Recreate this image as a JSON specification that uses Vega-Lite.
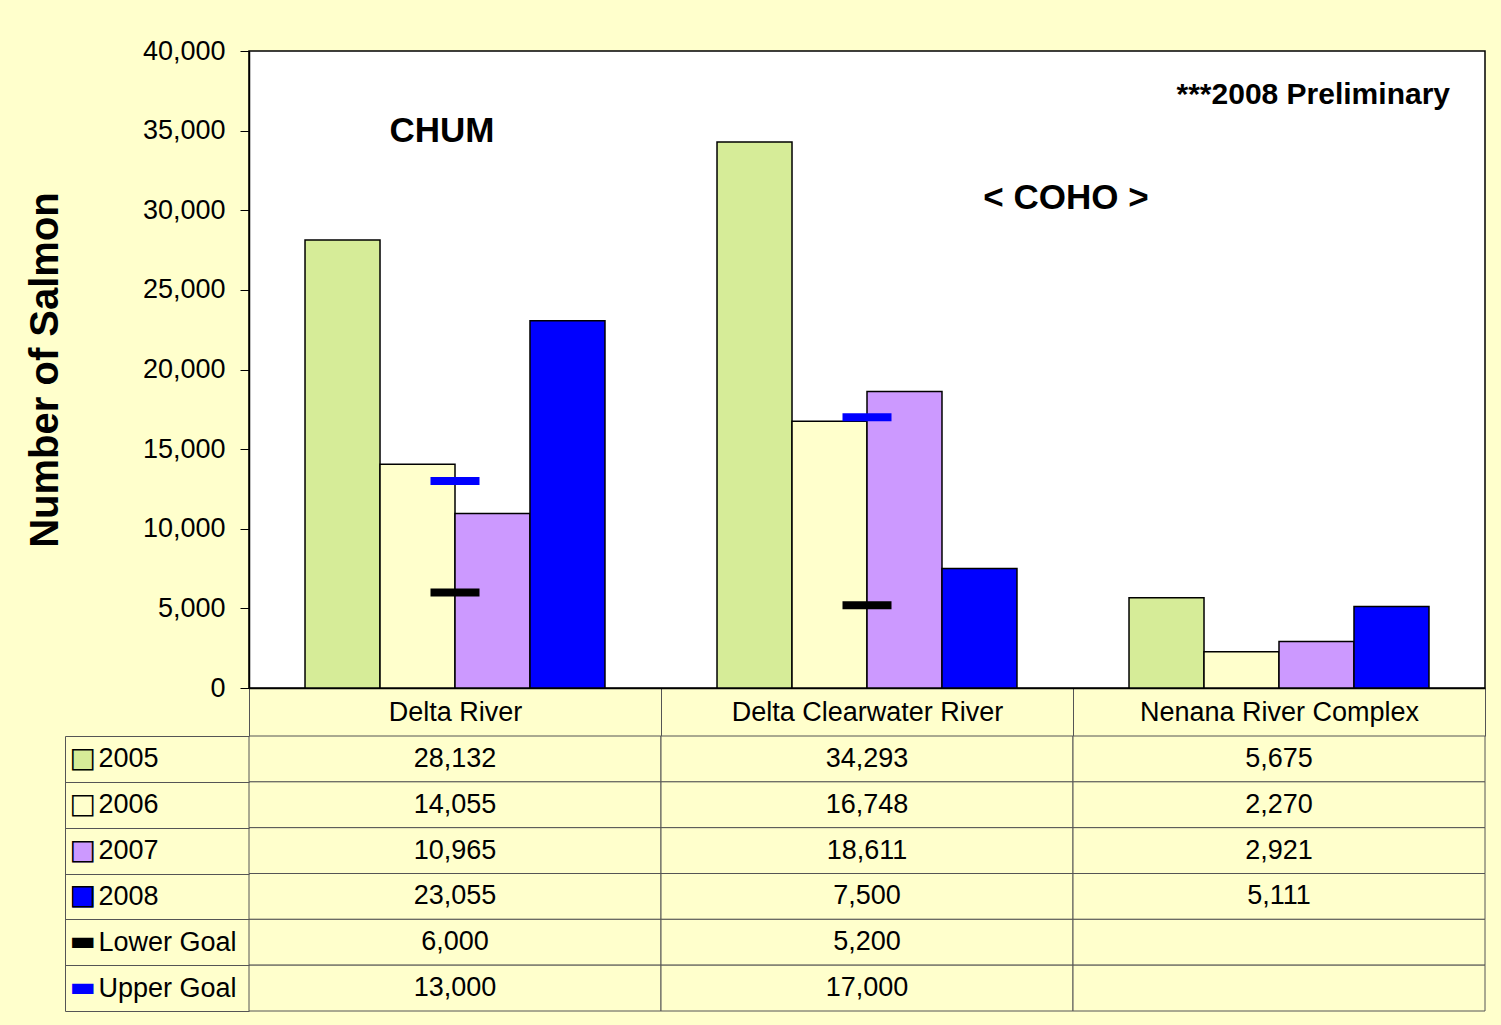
{
  "$schema": "https://vega.github.io/schema/vega-lite/v6.json",
  "background": "#FFFFCC",
  "padding": {"left": 24, "top": 36, "right": 16, "bottom": 15},
  "bounds": "flush",
  "spacing": 48,
  "config": {"font": "Liberation Sans", "view": {"stroke": null}},
  "datasets": {
    "salmon": [
      {"river": "Delta River", "series": "2005", "value": 28132},
      {"river": "Delta River", "series": "2006", "value": 14055},
      {"river": "Delta River", "series": "2007", "value": 10965},
      {"river": "Delta River", "series": "2008", "value": 23055},
      {"river": "Delta River", "series": "Lower Goal", "value": 6000},
      {"river": "Delta River", "series": "Upper Goal", "value": 13000},
      {"river": "Delta Clearwater River", "series": "2005", "value": 34293},
      {"river": "Delta Clearwater River", "series": "2006", "value": 16748},
      {"river": "Delta Clearwater River", "series": "2007", "value": 18611},
      {"river": "Delta Clearwater River", "series": "2008", "value": 7500},
      {"river": "Delta Clearwater River", "series": "Lower Goal", "value": 5200},
      {"river": "Delta Clearwater River", "series": "Upper Goal", "value": 17000},
      {"river": "Nenana River Complex", "series": "2005", "value": 5675},
      {"river": "Nenana River Complex", "series": "2006", "value": 2270},
      {"river": "Nenana River Complex", "series": "2007", "value": 2921},
      {"river": "Nenana River Complex", "series": "2008", "value": 5111},
      {"river": "Nenana River Complex", "series": "Lower Goal", "value": null},
      {"river": "Nenana River Complex", "series": "Upper Goal", "value": null}
    ]
  },
  "resolve": {"scale": {"x": "independent", "y": "independent", "color": "independent"}},
  "vconcat": [
    {
      "width": 1236,
      "height": 637,
      "view": {"fill": "white", "stroke": "black", "strokeWidth": 1.5},
      "encoding": {
        "x": {
          "field": "river",
          "type": "nominal",
          "scale": {"domain": ["Delta River", "Delta Clearwater River", "Nenana River Complex"], "paddingInner": 0, "paddingOuter": 0},
          "axis": {
            "title": null, "labelAngle": 0, "domain": true, "domainColor": "black", "domainWidth": 1.5,
            "ticks": true, "tickBand": "extent", "tickSize": 48, "tickColor": "#555", "tickWidth": 1,
            "labelPadding": -24, "labelBaseline": "middle", "labelFontSize": 27, "labelColor": "black",
            "labelFont": "Liberation Sans", "labelLimit": 500, "grid": false
          }
        },
        "y": {
          "field": "value",
          "type": "quantitative",
          "scale": {"domain": [0, 40000], "nice": false},
          "axis": {
            "title": "Number of Salmon", "titleFontSize": 40, "titleFontWeight": "bold", "titleColor": "black",
            "titleFont": "Liberation Sans", "titlePadding": 77,
            "values": [0, 5000, 10000, 15000, 20000, 25000, 30000, 35000, 40000], "format": ",.0f",
            "tickSize": 9, "tickColor": "black", "labelPadding": 15, "labelFontSize": 27, "labelColor": "black",
            "labelFont": "Liberation Sans", "domainColor": "black", "domainWidth": 1.5, "grid": false
          }
        }
      },
      "layer": [
        {
          "data": {"name": "salmon"},
          "transform": [{"filter": {"field": "series", "oneOf": ["2005", "2006", "2007", "2008"]}}],
          "mark": {"type": "bar", "stroke": "black", "strokeWidth": 1.5},
          "encoding": {
            "xOffset": {"field": "series", "type": "nominal", "scale": {"domain": ["2005", "2006", "2007", "2008"], "paddingInner": 0, "paddingOuter": 0.747}},
            "color": {
              "field": "series", "type": "nominal", "legend": null,
              "scale": {"domain": ["2005", "2006", "2007", "2008", "Lower Goal", "Upper Goal"], "range": ["#D6EC98", "#FFFFCC", "#CC99FF", "#0000FF", "black", "#0000FF"]}
            }
          }
        },
        {
          "data": {"name": "salmon"},
          "transform": [{"filter": {"field": "series", "oneOf": ["Lower Goal", "Upper Goal"]}}, {"filter": "isValid(datum.value)"}],
          "mark": {"type": "tick", "size": 49, "thickness": 8, "opacity": 1},
          "encoding": {
            "color": {
              "field": "series", "type": "nominal", "legend": null,
              "scale": {"domain": ["2005", "2006", "2007", "2008", "Lower Goal", "Upper Goal"], "range": ["#D6EC98", "#FFFFCC", "#CC99FF", "#0000FF", "black", "#0000FF"]}
            }
          }
        },
        {
          "data": {"values": [{"label": "CHUM", "river": "Delta River", "value": 35000}]},
          "mark": {"type": "text", "fontSize": 35, "fontWeight": "bold", "font": "Liberation Sans", "color": "black", "dx": -13},
          "encoding": {"text": {"field": "label"}}
        },
        {
          "data": {"values": [{"label": "< COHO >", "river": "Nenana River Complex", "value": 30800}]},
          "mark": {"type": "text", "fontSize": 35, "fontWeight": "bold", "font": "Liberation Sans", "color": "black", "dx": -213},
          "encoding": {"text": {"field": "label"}}
        },
        {
          "data": {"values": [{"label": "***2008 Preliminary", "river": "Nenana River Complex", "value": 37240}]},
          "mark": {"type": "text", "fontSize": 30, "fontWeight": "bold", "font": "Liberation Sans", "color": "black", "align": "right", "dx": 171},
          "encoding": {"text": {"field": "label"}}
        }
      ]
    },
    {
      "width": 1236,
      "height": 275,
      "data": {"name": "salmon"},
      "encoding": {
        "x": {
          "field": "river", "type": "nominal", "axis": null,
          "scale": {"domain": ["Delta River", "Delta Clearwater River", "Nenana River Complex"], "paddingInner": 0, "paddingOuter": 0}
        }
      },
      "layer": [
        {
          "mark": {"type": "rect", "fill": "#FFFFCC", "stroke": "#555", "strokeWidth": 1},
          "encoding": {
            "y": {
              "field": "series", "type": "nominal",
              "scale": {"domain": ["2005", "2006", "2007", "2008", "Lower Goal", "Upper Goal"], "paddingInner": 0, "paddingOuter": 0},
              "axis": {
                "title": null, "orient": "left", "offset": 184, "domain": true, "domainColor": "#555", "domainWidth": 1,
                "ticks": true, "tickBand": "extent", "tickSize": -184, "tickColor": "#555", "tickWidth": 1,
                "labelAlign": "left", "labelPadding": 151, "labelFontSize": 27, "labelColor": "black",
                "labelFont": "Liberation Sans", "grid": false
              }
            }
          }
        },
        {
          "transform": [{"filter": "isValid(datum.value)"}],
          "mark": {"type": "text", "fontSize": 27, "font": "Liberation Sans", "color": "black"},
          "encoding": {
            "y": {
              "field": "series", "type": "nominal",
              "axis": {
                "title": null, "orient": "left", "offset": 184, "domain": false, "ticks": false, "grid": false,
                "labelAlign": "left", "labelPadding": -4, "labelFont": "DejaVu Sans", "labelFontSize": 28,
                "labelExpr": "indexof(['2005','2007','2008'], datum.value) >= 0 ? '■' : (indexof(['Lower Goal','Upper Goal'], datum.value) >= 0 ? '▬' : '')",
                "labelColor": {
                  "condition": [
                    {"test": "datum.value == '2005'", "value": "#D6EC98"},
                    {"test": "datum.value == '2007'", "value": "#CC99FF"},
                    {"test": "datum.value == '2008' || datum.value == 'Upper Goal'", "value": "#0000FF"}
                  ],
                  "value": "black"
                }
              }
            },
            "text": {"field": "value", "type": "quantitative", "format": ","}
          }
        },
        {
          "mark": {"type": "rect", "opacity": 0},
          "encoding": {
            "y": {
              "field": "series", "type": "nominal",
              "axis": {
                "title": null, "orient": "left", "offset": 184, "domain": false, "ticks": false, "grid": false,
                "labelAlign": "left", "labelPadding": -4, "labelFont": "DejaVu Sans", "labelFontSize": 28,
                "labelColor": "black", "zindex": 2,
                "labelExpr": "indexof(['2005','2006','2007','2008'], datum.value) >= 0 ? '□' : ''"
              }
            }
          }
        }
      ],
      "resolve": {"axis": {"y": "independent"}}
    }
  ]
}
